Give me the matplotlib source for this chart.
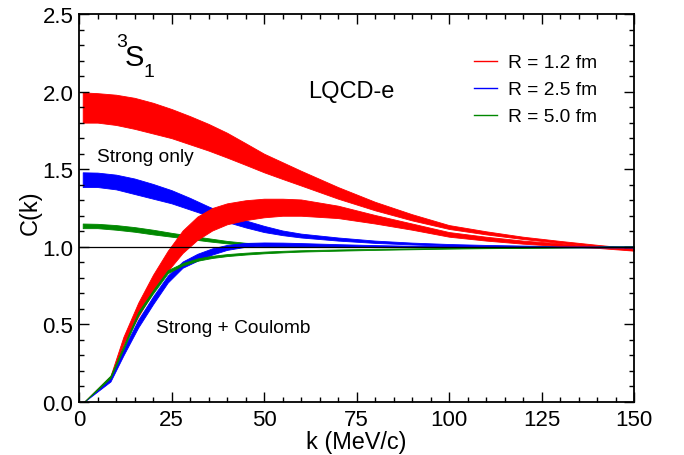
import matplotlib
matplotlib.use("Agg")
import matplotlib.pyplot as plt
from matplotlib.lines import Line2D
from matplotlib.ticker import MultipleLocator, FormatStrFormatter

plt.rcParams["font.family"] = ["Liberation Sans", "DejaVu Sans"]

RED = "#ff0000"
BLUE = "#0000ff"
GREEN = "#008800"

# strong interaction only
k_strong = [1, 5, 10, 15, 20, 25, 30, 35, 40, 45, 50, 55, 60, 70, 80, 90, 100, 110, 120, 130, 140, 150]
red_strong_lo = [1.80, 1.80, 1.785, 1.76, 1.73, 1.70, 1.66, 1.62, 1.575, 1.528, 1.48, 1.437, 1.395,
                 1.31, 1.235, 1.17, 1.115, 1.08, 1.05, 1.025, 1.003, 0.977]
red_strong_hi = [1.995, 1.99, 1.98, 1.96, 1.928, 1.888, 1.842, 1.792, 1.735, 1.668, 1.60, 1.545, 1.49,
                 1.385, 1.29, 1.21, 1.14, 1.10, 1.065, 1.038, 1.013, 0.99]
blue_strong_lo = [1.385, 1.385, 1.37, 1.34, 1.31, 1.28, 1.24, 1.20, 1.16, 1.125, 1.095, 1.075, 1.06,
                  1.04, 1.025, 1.015, 1.007, 1.003, 1.0, 0.998, 0.997, 0.996]
blue_strong_hi = [1.48, 1.478, 1.465, 1.44, 1.405, 1.365, 1.315, 1.26, 1.21, 1.17, 1.135, 1.105, 1.085,
                  1.06, 1.04, 1.027, 1.018, 1.012, 1.008, 1.005, 1.003, 1.002]
green_strong_lo = [1.12, 1.12, 1.11, 1.097, 1.08, 1.065, 1.05, 1.035, 1.022, 1.013, 1.007, 1.003, 1.0,
                   0.998, 0.998, 0.998, 0.998, 0.998, 0.998, 0.998, 0.998, 0.998]
green_strong_hi = [1.15, 1.148, 1.14, 1.127, 1.11, 1.09, 1.072, 1.055, 1.038, 1.026, 1.018, 1.012, 1.008,
                   1.005, 1.003, 1.003, 1.003, 1.003, 1.003, 1.003, 1.003, 1.003]

# strong + Coulomb
k_coul = [1.3, 8.5, 12, 16, 20, 24, 28, 32, 36, 40, 45, 50, 55, 60, 70, 80, 90, 100, 110, 120, 130, 140, 150]
red_coul_lo = [0, 0.148, 0.37, 0.55, 0.71, 0.845, 0.96, 1.045, 1.105, 1.145, 1.172, 1.19, 1.20, 1.20,
               1.185, 1.15, 1.11, 1.065, 1.04, 1.02, 1.005, 0.993, 0.975]
red_coul_hi = [0, 0.168, 0.42, 0.64, 0.82, 0.975, 1.105, 1.195, 1.25, 1.28, 1.30, 1.31, 1.31, 1.305,
               1.265, 1.205, 1.15, 1.095, 1.065, 1.04, 1.022, 1.003, 0.985]
blue_coul_lo = [0, 0.132, 0.30, 0.48, 0.63, 0.77, 0.865, 0.91, 0.95, 0.98, 1.0, 1.005, 1.006, 1.005,
                1.003, 1.0, 0.999, 0.998, 0.997, 0.997, 0.996, 0.996, 0.996]
blue_coul_hi = [0, 0.152, 0.34, 0.53, 0.68, 0.815, 0.905, 0.955, 0.99, 1.012, 1.025, 1.028, 1.027, 1.024,
                1.017, 1.011, 1.007, 1.005, 1.004, 1.003, 1.002, 1.002, 1.002]
green_coul_lo = [0, 0.155, 0.34, 0.56, 0.70, 0.83, 0.88, 0.91, 0.928, 0.94, 0.95, 0.958, 0.964, 0.969,
                 0.975, 0.98, 0.984, 0.988, 0.991, 0.993, 0.995, 0.997, 0.998]
green_coul_hi = [0, 0.17, 0.36, 0.58, 0.72, 0.85, 0.895, 0.925, 0.942, 0.953, 0.962, 0.969, 0.974, 0.978,
                 0.983, 0.987, 0.99, 0.993, 0.995, 0.997, 0.998, 1.0, 1.001]

labels = ["R = 1.2 fm", "R = 2.5 fm", "R = 5.0 fm"]
colors = [RED, BLUE, GREEN]

fig = plt.figure(figsize=(6.84, 4.56), dpi=100)
ax = fig.add_axes([79 / 684, 53 / 456, 555 / 684, 388 / 456])

strong = [(red_strong_lo, red_strong_hi), (blue_strong_lo, blue_strong_hi), (green_strong_lo, green_strong_hi)]
coul = [(red_coul_lo, red_coul_hi), (blue_coul_lo, blue_coul_hi), (green_coul_lo, green_coul_hi)]
for (lo, hi), c in zip(strong, colors):
    ax.fill_between(k_strong, lo, hi, color=c, linewidth=0.6, edgecolor=c)
for (lo, hi), c in zip(coul, colors):
    ax.fill_between(k_coul, lo, hi, color=c, linewidth=0.6, edgecolor=c)

ax.axhline(1.0, color="black", linewidth=0.9)

ax.set_xlim(0, 150)
ax.set_ylim(0, 2.5)
ax.xaxis.set_major_locator(MultipleLocator(25))
ax.xaxis.set_minor_locator(MultipleLocator(5))
ax.yaxis.set_major_locator(MultipleLocator(0.5))
ax.yaxis.set_minor_locator(MultipleLocator(0.1))
ax.yaxis.set_major_formatter(FormatStrFormatter("%.1f"))
ax.tick_params(which="both", direction="in", top=True, right=True, width=1.0, labelsize=16)
ax.tick_params(which="major", length=7)
ax.tick_params(which="minor", length=3.6)
ax.tick_params(axis="x", pad=5)
ax.tick_params(axis="y", pad=4)
for sp in ax.spines.values():
    sp.set_linewidth(1.3)

ax.set_xlabel("k (MeV/c)", fontsize=16.9, labelpad=0)
ax.set_ylabel("C(k)", fontsize=16.9)
ax.yaxis.set_label_coords(-0.067, 0.49)

ax.text(0.0667, 0.9175, "3", transform=ax.transAxes, fontsize=14, va="baseline")
ax.text(0.0829, 0.8686, "S", transform=ax.transAxes, fontsize=21, va="baseline")
ax.text(0.117, 0.840, "1", transform=ax.transAxes, fontsize=14, va="baseline")
ax.text(0.4126, 0.785, "LQCD-e", transform=ax.transAxes, fontsize=17, va="baseline")
ax.text(0.0324, 0.621, "Strong only", transform=ax.transAxes, fontsize=13.75, va="baseline")
ax.text(0.1387, 0.180, "Strong + Coulomb", transform=ax.transAxes, fontsize=13.75, va="baseline")

handles = [Line2D([], [], color=c, linewidth=1.0) for c in colors]
ax.legend(handles, labels, loc="upper left", bbox_to_anchor=((474 - 79) / 555, (403 - 55) / 388),
          frameon=False, fontsize=13.75, handlelength=1.2, handletextpad=0.6, labelspacing=0.5,
          borderpad=0, borderaxespad=0)

fig.savefig("out.png", dpi=100)
